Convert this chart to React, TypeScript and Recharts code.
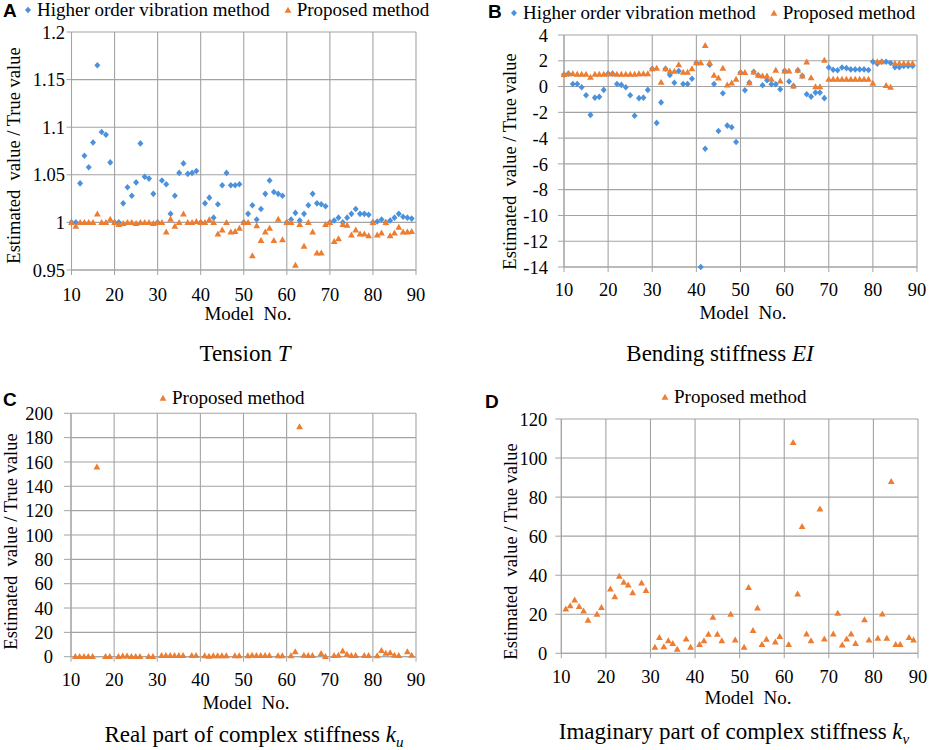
import React from 'react';
import {
  ScatterChart,
  Scatter,
  XAxis,
  YAxis,
  CartesianGrid,
  Legend,
} from 'recharts';

const SERIF = "'Liberation Serif', 'Times New Roman', serif";
const SANS = "'Liberation Sans', Arial, sans-serif";
const BLUE = '#4b91dc';
const ORANGE = '#ed7d31';
const GRID = '#a3a3a3';

const models = [
  10, 11, 12, 13, 14, 15, 16, 17, 18, 19,
  20, 21, 22, 23, 24, 25, 26, 27, 28, 29,
  30, 31, 32, 33, 34, 35, 36, 37, 38, 39,
  40, 41, 42, 43, 44, 45, 46, 47, 48, 49,
  50, 51, 52, 53, 54, 55, 56, 57, 58, 59,
  60, 61, 62, 63, 64, 65, 66, 67, 68, 69,
  70, 71, 72, 73, 74, 75, 76, 77, 78, 79,
  80, 81, 82, 83, 84, 85, 86, 87, 88, 89,
];
const xTicks = [10, 20, 30, 40, 50, 60, 70, 80, 90];

// A: tension
const tensionHigher = [
  1.0, 1.0, 1.041, 1.07, 1.058, 1.084, 1.165, 1.095, 1.092, 1.063,
  1.0, 1.0, 1.02, 1.037, 1.028, 1.042, 1.083, 1.048, 1.046, 1.03,
  1.0, 1.044, 1.04, 1.009, 1.028, 1.052, 1.062, 1.051, 1.052, 1.054,
  1.0, 1.02, 1.026, 1.005, 1.019, 1.039, 1.052, 1.039, 1.039, 1.04,
  1.0, 1.009, 1.018, 1.003, 1.014, 1.03, 1.044, 1.032, 1.03, 1.028,
  1.0, 1.003, 1.01, 1.002, 1.009, 1.018, 1.03, 1.02, 1.019, 1.017,
  1.0, 1.002, 1.005, 1.0, 1.005, 1.009, 1.014, 1.009, 1.009, 1.008,
  1.0, 1.001, 1.003, 1.0, 1.002, 1.005, 1.009, 1.006, 1.005, 1.004,
];
const tensionProposed = [
  1.0, 0.996, 1.0, 1.0, 1.0, 1.0, 1.009, 1.0, 1.0, 1.0035,
  1.0, 0.998, 0.999, 1.0, 1.0, 0.999, 1.0, 1.0, 1.0, 0.999,
  1.0, 1.0, 0.99, 1.0035, 0.996, 1.0, 1.009, 1.0, 1.0, 1.001,
  1.0, 1.0, 1.003, 1.0, 0.988, 0.992, 1.0, 0.99, 0.9905, 0.994,
  1.0, 1.0, 0.965, 0.9965, 0.981, 0.99, 0.994, 0.981, 1.0035, 0.982,
  1.0, 1.0, 0.955, 0.998, 0.975, 1.0, 0.99, 0.968, 0.968, 0.998,
  1.0, 0.98, 0.983, 0.998, 0.997, 0.987, 0.992, 0.988, 0.988, 0.986,
  1.0, 0.987, 0.989, 1.0, 0.986, 0.989, 0.995, 0.99, 0.99, 0.9905,
];

// B: bending stiffness
const bendingHigher = [
  0.94, 1.0, 0.2, 0.2, -0.05, -0.68, -2.2, -0.86, -0.8, -0.26,
  1.0, 1.0, 0.2, 0.13, -0.05, -0.68, -2.27, -0.9, -0.86, -0.26,
  1.38, -2.82, -1.23, 1.38, 0.9, 0.3, 1.2, 0.2, 0.2, 0.6,
  1.85, -14, -4.83, 1.7, 0.2, -3.45, -0.52, -3.03, -3.16, -4.3,
  1.09, -0.29, 0.31, 1.14, 0.88, 0.1, 0.49, 0.18, 0.18, -0.21,
  1.22, 0.39, 0.05, 1.27, 0.83, -0.6, -0.78, -0.47, -0.47, -0.9,
  1.48, 1.3, 1.27, 1.48, 1.43, 1.33, 1.33, 1.33, 1.33, 1.28,
  1.93, 1.78, 1.93, 1.93, 1.83, 1.5, 1.5, 1.6, 1.6, 1.6,
];
const bendingProposed = [
  0.94, 1.0, 1.0, 0.97, 0.97, 0.97, 0.73, 0.97, 0.97, 0.97,
  1.0, 1.0, 0.97, 0.97, 0.97, 0.97, 0.97, 1.0, 1.0, 1.0,
  1.38, 1.43, 0.34, 1.38, 1.2, 1.2, 1.7, 1.12, 1.12, 1.38,
  1.85, 1.85, 3.2, 1.85, 0.89, 0.68, 1.43, 0.13, 0.29, 0.57,
  1.09, 1.09, 0.31, 1.14, 0.88, 0.83, 0.83, 0.57, 1.27, 0.44,
  1.22, 1.22, 0.05, 1.27, 0.83, 1.92, 0.7, 0, 0, 2.05,
  0.57, 0.57, 0.57, 0.57, 0.57, 0.57, 0.57, 0.57, 0.57, 0.57,
  0.26, 1.93, 1.93, 0.08, -0.05, 1.8, 1.8, 1.8, 1.8, 1.8,
];

// C: real part of complex stiffness (null = no estimate)
const realProposed = [
  null, 0.3, 0.3, 0.3, 0.3, 0.3, 156, null, 0.3, 0.3,
  null, 0.3, 0.6, 0.6, 0.3, 0.3, 0.3, null, 0.3, 0.3,
  null, 1, 1, 1, 1, 1, 1, null, 1, 1,
  null, 0.8, 0.5, 0.8, 0.8, 0.8, 0.8, null, 0.8, 0.8,
  null, 0.8, 1.3, 1, 1, 1, 1, null, 0.8, 0.8,
  null, 0.8, 4.2, 189, 1.2, 1, 1, null, 2.8, 0.3,
  null, 1, 1.2, 4.8, 2, 1, 1, null, 1, 1,
  null, 0.8, 5.2, 3, 3.3, 1.2, 1, null, 4.2, 1.2,
];

// D: imaginary part of complex stiffness
const imagProposed = [
  null, 22.8, 24.4, 27.4, 24, 21.7, 17, null, 20, 23.5,
  null, 33, 29, 39.5, 36.5, 35, 31, null, 36, 32.2,
  null, 3.1, 8.2, 3.4, 6.5, 5.1, 2.1, null, 7.4, 3.1,
  null, 4.6, 6.5, 9.8, 18.5, 9.8, 6.5, null, 20, 6.9,
  null, 3.1, 33.8, 11.7, 23.2, 4.6, 7.2, null, 5.8, 8.6,
  null, 4.6, 108, 30.4, 65, 10, 6.5, null, 74, 7.4,
  null, 10, 20.6, 4.3, 7.4, 10, 5.1, null, 17.2, 6.9,
  null, 7.7, 20.2, 7.7, 88, 4.6, 4.6, null, 8.2, 6.9,
];

const tensionTicks = [0.95, 1, 1.05, 1.1, 1.15, 1.2];
const bendingTicks = [-14, -12, -10, -8, -6, -4, -2, 0, 2, 4];
const realTicks = [0, 20, 40, 60, 80, 100, 120, 140, 160, 180, 200];
const imagTicks = [0, 20, 40, 60, 80, 100, 120];

const HIGHER = 'Higher order vibration method';
const PROPOSED = 'Proposed method';

function toRows(values: (number | null)[]) {
  return models
    .map((m, i) => ({ model: m, value: values[i] }))
    .filter((r) => r.value !== null);
}

const Diamond = (p: any) => (
  <polygon
    points={`${p.cx},${p.cy - 3.3} ${p.cx + 3},${p.cy} ${p.cx},${p.cy + 3.3} ${p.cx - 3},${p.cy}`}
    fill={BLUE}
  />
);
const Triangle = (p: any) => (
  <polygon
    points={`${p.cx},${p.cy - 3.4} ${p.cx + 3.4},${p.cy + 2.6} ${p.cx - 3.4},${p.cy + 2.6}`}
    fill={ORANGE}
  />
);

const XTick = (p: any) => (
  <text x={p.x} y={p.y} dy="0.71em" textAnchor="middle" fill="#000" fontSize={18.5} fontFamily={SERIF}>
    {p.payload.value}
  </text>
);
const YTick = (p: any) => (
  <text x={p.x} y={p.y} dy="0.36em" textAnchor="end" fill="#000" fontSize={18.5} fontFamily={SERIF}>
    {p.payload.value}
  </text>
);

function LegendBox({ payload }: any) {
  return (
    <div style={{ display: 'flex', alignItems: 'center', fontFamily: SERIF, fontSize: 19, lineHeight: '20px', color: '#000', whiteSpace: 'nowrap' }}>
      {(payload || []).map((entry: any, i: number) => (
        <span key={entry.value} style={{ display: 'flex', alignItems: 'center', marginLeft: i ? 14 : 0 }}>
          <svg width={8} height={8} style={{ marginRight: 5 }}>
            {entry.type === 'diamond' ? (
              <polygon points="4,0.8 7,4 4,7.2 1,4" fill={BLUE} />
            ) : (
              <polygon points="4,0.8 7.4,6.8 0.6,6.8" fill={ORANGE} />
            )}
          </svg>
          {entry.value}
        </span>
      ))}
    </div>
  );
}

interface SeriesDef {
  name: string;
  values: (number | null)[];
  kind: 'diamond' | 'triangle';
}

interface PanelProps {
  left: number;
  top: number;
  margin: { top: number; right: number; bottom: number; left: number };
  yDomain: [number, number];
  yTicks: number[];
  yTickSize: number;
  yTickMargin: number;
  xTickMargin: number;
  legendPos: { left: number; top: number };
  series: SeriesDef[];
}

function Panel(props: PanelProps) {
  return (
    <div style={{ position: 'absolute', left: props.left, top: props.top, fontFamily: SERIF }}>
      <ScatterChart width={467} height={375} margin={props.margin} style={{ fontFamily: SERIF }}>
        <CartesianGrid stroke={GRID} strokeWidth={1.1} />
        <XAxis
          type="number"
          dataKey="model"
          domain={[10, 90]}
          ticks={xTicks}
          interval={0}
          height={30}
          tick={XTick}
          tickSize={5}
          tickMargin={props.xTickMargin}
          stroke={GRID}
        />
        <YAxis
          type="number"
          dataKey="value"
          domain={props.yDomain}
          ticks={props.yTicks}
          interval={0}
          width={60}
          tick={YTick}
          tickSize={props.yTickSize}
          tickMargin={props.yTickMargin}
          stroke={GRID}
        />
        <Legend
          layout="horizontal"
          verticalAlign="middle"
          align="center"
          content={<LegendBox />}
          wrapperStyle={{ left: props.legendPos.left, top: props.legendPos.top, width: 'auto', height: 'auto' }}
        />
        {props.series.map((s) => (
          <Scatter
            key={s.name}
            name={s.name}
            data={toRows(s.values)}
            fill={s.kind === 'diamond' ? BLUE : ORANGE}
            legendType={s.kind}
            shape={s.kind === 'diamond' ? Diamond : Triangle}
            isAnimationActive={false}
          />
        ))}
      </ScatterChart>
    </div>
  );
}

function TextAt({ x, y, size, children }: any) {
  return (
    <div
      style={{
        position: 'absolute',
        left: x - 250,
        top: y - size / 2,
        width: 500,
        textAlign: 'center',
        fontFamily: SERIF,
        fontSize: size,
        lineHeight: `${size}px`,
        whiteSpace: 'pre',
        color: '#000',
      }}
    >
      {children}
    </div>
  );
}

function YLabel({ x, y }: { x: number; y: number }) {
  return (
    <div
      style={{
        position: 'absolute',
        left: x - 150,
        top: y - 9.5,
        width: 300,
        height: 19,
        textAlign: 'center',
        fontFamily: SERIF,
        fontSize: 18.5,
        lineHeight: '19px',
        whiteSpace: 'pre',
        transform: 'rotate(-90deg)',
        color: '#000',
      }}
    >
      {'Estimated  value / True value'}
    </div>
  );
}

function Letter({ x, y, children }: any) {
  return (
    <div style={{ position: 'absolute', left: x, top: y - 10, fontFamily: SANS, fontWeight: 'bold', fontSize: 19, lineHeight: '20px' }}>
      {children}
    </div>
  );
}

const subStyle: React.CSSProperties = { fontSize: 15, position: 'relative', top: 5, fontStyle: 'italic' };

export default function App() {
  return (
    <div style={{ position: 'absolute', left: 0, top: 0, width: 934, height: 750, background: '#fff', overflow: 'hidden', fontFamily: SERIF }}>
      <Panel
        left={0}
        top={0}
        margin={{ top: 32, right: 51, left: 11.5, bottom: 75 }}
        yDomain={[0.95, 1.2]}
        yTicks={tensionTicks}
        yTickSize={5}
        yTickMargin={1.5}
        xTickMargin={13}
        legendPos={{ left: 24, top: 0 }}
        series={[
          { name: HIGHER, values: tensionHigher, kind: 'diamond' },
          { name: PROPOSED, values: tensionProposed, kind: 'triangle' },
        ]}
      />
      <Panel
        left={467}
        top={0}
        margin={{ top: 35, right: 17, left: 37, bottom: 78 }}
        yDomain={[-14, 4]}
        yTicks={bendingTicks}
        yTickSize={6}
        yTickMargin={10}
        xTickMargin={11}
        legendPos={{ left: 43, top: 3 }}
        series={[
          { name: HIGHER, values: bendingHigher, kind: 'diamond' },
          { name: PROPOSED, values: bendingProposed, kind: 'triangle' },
        ]}
      />
      <Panel
        left={0}
        top={375}
        margin={{ top: 38.3, right: 51, left: 11, bottom: 63.3 }}
        yDomain={[0, 200]}
        yTicks={realTicks}
        yTickSize={7}
        yTickMargin={11}
        xTickMargin={11}
        legendPos={{ left: 159, top: 13 }}
        series={[{ name: PROPOSED, values: realProposed, kind: 'triangle' }]}
      />
      <Panel
        left={467}
        top={375}
        margin={{ top: 44, right: 16, left: 34.3, bottom: 66.7 }}
        yDomain={[0, 120]}
        yTicks={imagTicks}
        yTickSize={6}
        yTickMargin={8}
        xTickMargin={12}
        legendPos={{ left: 194, top: 12 }}
        series={[{ name: PROPOSED, values: imagProposed, kind: 'triangle' }]}
      />

      <Letter x={3} y={11}>A</Letter>
      <Letter x={488} y={12}>B</Letter>
      <Letter x={3} y={400}>C</Letter>
      <Letter x={485} y={402}>D</Letter>

      <YLabel x={14} y={155} />
      <YLabel x={510} y={161.5} />
      <YLabel x={11} y={541} />
      <YLabel x={510.5} y={551} />

      <TextAt x={248} y={313} size={19}>{'Model  No.'}</TextAt>
      <TextAt x={743} y={312} size={19}>{'Model  No.'}</TextAt>
      <TextAt x={246} y={702} size={19}>{'Model  No.'}</TextAt>
      <TextAt x={748} y={697} size={19}>{'Model  No.'}</TextAt>

      <TextAt x={245} y={353} size={23}>
        Tension <i>T</i>
      </TextAt>
      <TextAt x={720} y={353} size={23}>
        Bending stiffness <i>EI</i>
      </TextAt>
      <TextAt x={254} y={734} size={23}>
        Real part of complex stiffness <i>k</i>
        <span style={subStyle}>u</span>
      </TextAt>
      <TextAt x={734} y={731} size={23}>
        Imaginary part of complex stiffness <i>k</i>
        <span style={subStyle}>v</span>
      </TextAt>
    </div>
  );
}
